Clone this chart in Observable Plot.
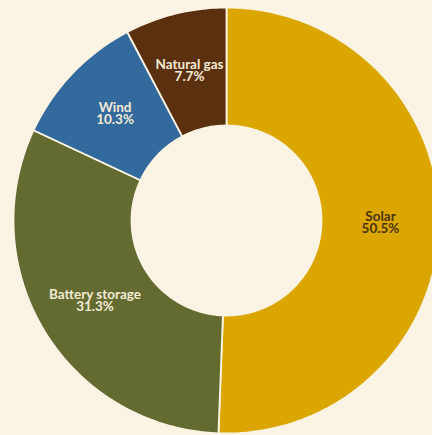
<!DOCTYPE html>
<html>
<head>
<meta charset="utf-8">
<script src="https://cdn.jsdelivr.net/npm/d3@7"></script>
<script src="https://cdn.jsdelivr.net/npm/@observablehq/plot@0.6"></script>
<style>
  html, body { margin: 0; padding: 0; background: #fbf4e4; overflow: hidden; }
  #chart svg { display: block; }
</style>
</head>
<body>
<div id="chart"></div>
<script>
const categories = ["Solar", "Battery storage", "Wind", "Natural gas"];
const shares = [50.5, 31.3, 10.3, 7.7];
const colors = ["#dca600", "#636b31", "#336a9d", "#5b300f"];
const labelColors = ["#4a3410", "#f3ead5", "#f3ead5", "#f3ead5"];

const INNER = 0.446, OUTER = 1;
const data = categories.map((c, i) => ({category: c, value: shares[i]}));
const arcs = d3.pie().sort(null).value(d => d.value)(data);

// polygon points for each slice (sampled arc edges)
const pts = [];
for (const a of arcs) {
  const n = Math.max(8, Math.ceil((a.endAngle - a.startAngle) * 60));
  for (let k = 0; k <= n; k++) {
    const t = a.startAngle + (a.endAngle - a.startAngle) * k / n;
    pts.push({category: a.data.category, x: OUTER * Math.sin(t), y: -OUTER * Math.cos(t)});
  }
  for (let k = n; k >= 0; k--) {
    const t = a.startAngle + (a.endAngle - a.startAngle) * k / n;
    pts.push({category: a.data.category, x: INNER * Math.sin(t), y: -INNER * Math.cos(t)});
  }
}
const rMid = (INNER + OUTER) / 2;
const labels = arcs.map((a, i) => {
  const t = (a.startAngle + a.endAngle) / 2;
  return {category: a.data.category, x: rMid * Math.sin(t), y: -rMid * Math.cos(t),
          text: `${a.data.category}\n${a.data.value.toFixed(1)}%`, color: labelColors[i]};
});

const chart = Plot.plot({
  width: 432,
  height: 435,
  margin: 0,
  style: {background: "#fbf4e4", fontFamily: "Lato, 'Open Sans', sans-serif"},
  x: {domain: [-1, 1], range: [13, 439], axis: null},
  y: {domain: [-1, 1], range: [7, 433], axis: null},
  color: {domain: categories, range: colors},
  marks: [
    Plot.line(pts, {x: "x", y: "y", z: "category", fill: "category", stroke: "#fbf4e4", strokeWidth: 1.8, curve: "linear-closed"}),
    Plot.text(labels, {x: "x", y: "y", text: "text", fill: d => d.color, fontSize: 13.5, fontWeight: "bold", lineHeight: 0.9})
  ]
});
document.getElementById("chart").append(chart);
</script>
</body>
</html>
